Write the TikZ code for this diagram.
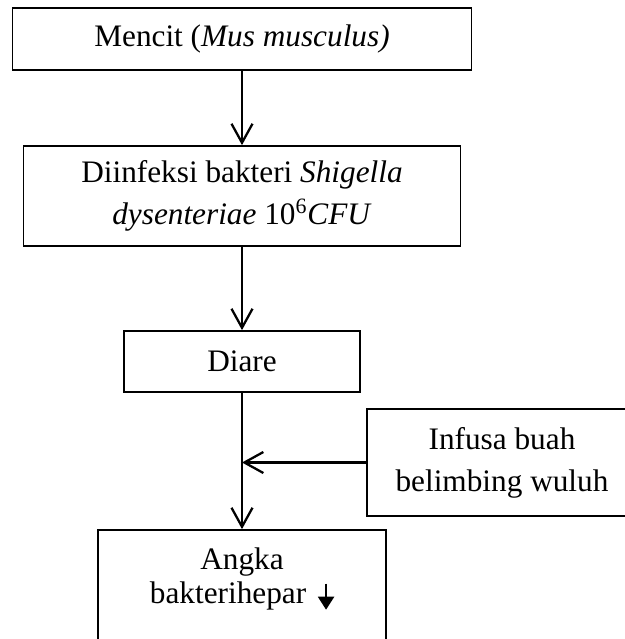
\documentclass[tikz,border=0pt]{standalone}
\usepackage{fontspec}
\setmainfont{Liberation Serif}
\usetikzlibrary{arrows.meta}
\newcommand{\turun}{\hspace{0.08cm}\tikz[baseline=0pt]\draw [black, line width=1.2pt, -{Triangle[length=0.26cm,width=0.32cm]}] (0,0.4) -- (0,-0.12);}

\begin{document}
\begin{tikzpicture}
    \tikzstyle{every node}+=[font=\fontsize{17.8}{23.9}\selectfont]
    \tikzstyle{kotak}=[draw=black, line width=1pt, align=center, inner sep=0pt]
    \tikzstyle{panah}=[black, line width=1.3pt, -{Straight Barb[length=0.38cm,width=0.42cm]}]
    \useasboundingbox (0,0) rectangle (12.5,-12.78);
    \node [kotak, minimum width=9.18cm, minimum height=1.24cm] (mencit) at (4.84,-0.78) {Mencit (\textit{Mus musculus)}};
    \node [kotak, minimum width=8.74cm, minimum height=2cm] (infeksi) at (4.84,-3.92) {Diinfeksi bakteri \textit{Shigella}\\ \textit{dysenteriae} 10\textsuperscript{6}\textit{CFU}};
    \node [kotak, minimum width=4.72cm, minimum height=1.22cm] (diare) at (4.84,-7.23) {Diare};
    \node [kotak, minimum width=5.4cm, minimum height=2.14cm] (infusa) at (10.04,-9.25) {Infusa buah\\ belimbing wuluh};
    \node [kotak, minimum width=5.76cm, minimum height=2.32cm, text depth=0.48cm, font=\fontsize{17.8}{19.2}\selectfont] (angka) at (4.84,-11.76) {Angka\\ bakterihepar \turun};
    \draw [panah] (mencit.south) -- (infeksi.north);
    \draw [panah] (infeksi.south) -- (diare.north);
    \draw [panah] (diare.south) -- (angka.north);
    \draw [panah] (infusa.west) -- (infusa.west -| diare.south);
\end{tikzpicture}
\end{document}
